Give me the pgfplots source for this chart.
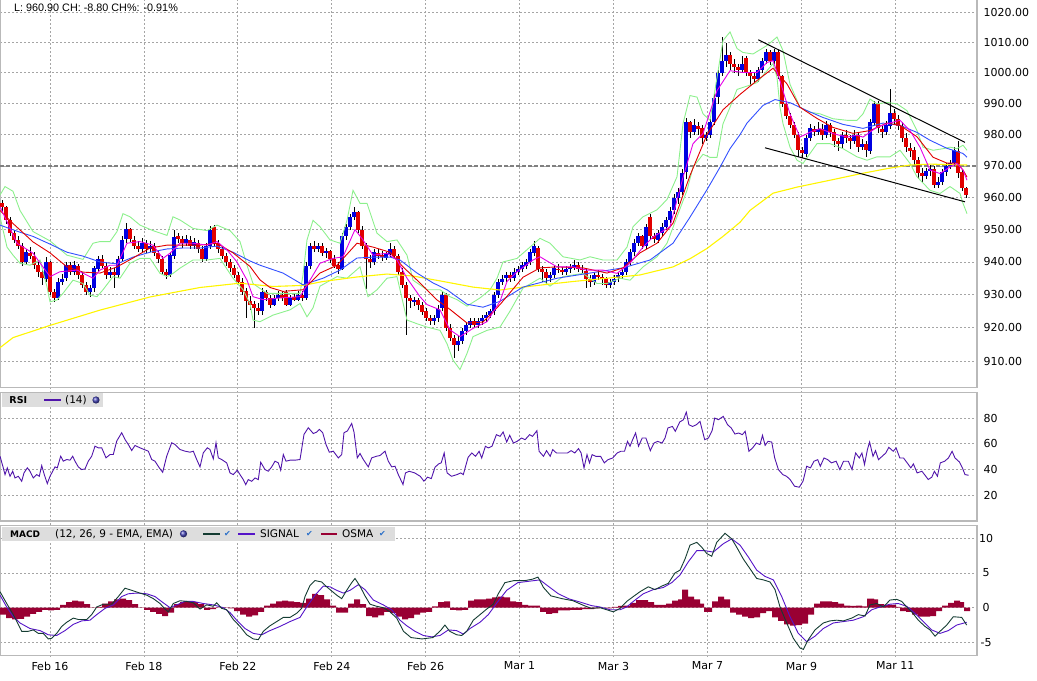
\documentclass[border=0pt]{standalone}
\usepackage{pgfplots}
\pgfplotsset{compat=1.18}
\usepackage{pgfplotstable}
\usepackage{fontspec}
\setmainfont{DejaVu Sans}
\newfontfamily\arialf{Liberation Sans}
\definecolor{candup}{RGB}{0,0,225}
\definecolor{canddn}{RGB}{225,0,0}
\definecolor{bbgreen}{RGB}{140,240,140}
\definecolor{emared}{RGB}{225,0,0}
\definecolor{emamag}{RGB}{230,0,230}
\definecolor{emablue}{RGB}{50,80,255}
\definecolor{emayel}{RGB}{255,245,0}
\definecolor{rsicol}{RGB}{80,20,170}
\definecolor{macdcol}{RGB}{20,60,50}
\definecolor{sigcol}{RGB}{85,20,200}
\definecolor{osmacol}{RGB}{153,0,51}
\definecolor{gridc}{RGB}{165,165,165}
\definecolor{framec}{RGB}{185,185,185}
\definecolor{legbg}{RGB}{221,221,221}
\definecolor{checkc}{RGB}{40,110,200}

\pgfplotstableread{
x o h l c
2 958.5 959.5 955.5 957
6 957 957.5 952 953
10 953 954 948 949
14 949 950 946 947
18 947 948 944 945
22 945 946 939 940
26 940 944 939 943
30 943 944.5 941 942
34 942 943 938 939
38 939 940 935.5 937
42 937 938 933 935
46 935 941.5 934 940
50 940 940.5 930 931
54 931 932 928 929
58 929 935 928.5 934
62 934 936.5 933 935
66 935 940 934 939
70 939 940 936 937
74 937 940.5 936 939
78 939 939.5 935 936
82 936 937 932 933
86 933 934 930 931
90 931 933 929.5 932
94 932 939 931 938
98 938 942 937 941
102 941 942 938 939
106 939 940 935 936
110 936 938.5 935 937
114 937 938 932 936
118 936 942 935 941
122 941 948 940 947
126 947 952 946 950
130 950 950.5 946 947
134 947 948 944 945
138 945 946.5 943 944
142 944 947.5 943 946
146 946 947 943 944
150 944 946.5 943 945
154 945 946 942 943
158 943 944 940 941
162 941 942 936.5 937
166 937 938 935 936
170 936 943 935.5 942
174 942 950 941 948
178 948 949 946 947
182 947 948 944.5 946
186 946 948.5 945 947
190 947 948 944 945
194 945 947.5 944 946
198 946 947 943 944
202 944 945 940 941
206 941 946 940.5 945
210 945 951 944 950
214 951 951.5 945 946
218 946 947 943 944
222 944 945 941 942
226 942 943 939 940
230 940 941 937 938
234 938 939 935 936
238 936 937 933 934
242 934 935 930 931
246 931 932 923 928
250 928 929.5 925.5 927
254 927 928 920 926
258 926 927.5 924 925
262 925 932 924 931
266 931 931.5 928 929
270 929 930 926 927
274 927 930 926.5 929
278 929 931 928 930
282 930 931 928 929
286 931 931.5 926.5 927
290 927 930 926.5 929
294 929.5 930.5 928 928.5
298 928.5 931 928 930
302 930 931 928 929
306 929 940 928.5 939
310 939 946 938 945
314 945 946.5 943 944
318 944 946 943 945
322 945 946 942 943
326 943 944.5 941.5 943.5
330 943.5 944 940 941
334 941 942 938 939
338 939 940 936.5 938
342 938 949 937.5 948
346 948 952 947 951
350 951 955 950 954
354 954 957 953 955.5
358 955.5 956 949 950
362 950 951 944 945
366 945 946 932 941
370 941 942 938 940
374 940 944 939 943
378 943 944 941 942
382 942 943.5 940.5 941.5
386 941.5 943 940.5 942.5
390 942.5 946 941.5 944
394 944 945 941 942
398 942 942.5 936 937
402 937 938 932 933
406 933 934 918 929
410 929 930 926 928
414 928 929.5 926.5 928.5
418 928.5 929 925.5 927
422 927 928 924 925
426 925 926 922 923
430 923 924 921 922
434 922 924 921 923
438 923 927 922 926
442 926 931 925 930
446 930 930.5 919 920
450 920 921 916 917
454 917 918 911 915
458 915 917.5 913 916
462 916 920 915 919
466 919 922 918 921
470 921 923 920 922
474 922 923 920 921
478 921 923 920 922
482 922 924 921 923
486 923 925 922 924
490 924 926 923 925
494 925 931 924 930
498 930 935 929 934
502 934 936 933 935
506 935 937 934 936
510 936 937 934 935
514 935 938 934 937
518 937 939 936 938
522 938 940 937 939
526 939 941 938 940
530 940 944 939 943
534 943 946.5 942 945
538 944.5 945 937 938
542 938 939 934 937
546 937 938 933 935
550 935 937 934 936
554 936 939 935 938
558 938 939.5 936.5 937.5
562 937.5 938.5 936 937
566 937 939 936 938
570 938 939.5 936.5 938.5
574 938.5 940.5 937.5 939
578 939 940 937 938
582 938 939 936.5 937.5
586 937.5 938 932 935
590 935 936 932.5 934
594 934 937 933 936
598 936 937.5 934.5 935.5
602 935.5 936.5 933 935
606 935 935.5 932 933
610 933 935 932 934
614 934 936 933 935
618 935 937 934 936
622 936 938 935 937
626 937 941 936 940
630 940 944 939 943
634 943 947 942 946
638 946 949 945 948
642 948 948.5 944 945
646 945 952 944 951
650 954 955 947 948
654 948 949 946 947
658 947 950 946 949
662 949 952 948 951
666 951 954 950 953
670 953 957 952 956
674 956 961 955 960
678 960 963 958 962
682 962 969 961 968
686 968 985.5 966 984
690 984 984.5 979 981
694 981 985 980 983
698 983 984 980 982
702 982 983 977 979
706 979 981 978 980
710 980 985 979 984
714 984 993 983 992
718 992 1001 990 1000
722 1000 1012 999 1004
726 1004 1010 1002 1006
730 1006 1007 1001 1003
734 1003 1004.5 1000 1002
738 1002 1003 999 1001
742 1001 1005.5 1000 1003
746 1005 1005.5 999 1000
750 1000 1001 996 999
754 999 1000 996.5 998
758 998 1002 997 1001
762 1001 1005 1000 1004
766 1004 1008 1003 1007
770 1007 1007.5 1002.5 1004
774 1004 1008 1003 1007
778 1007 1007.5 998 999
782 999 999.5 989 990
786 990 991 985 986
790 986 987 982 983
794 983 984 979 980
798 980 981 973 975
802 975 976 972.5 974
806 974 980 973 979
810 979 983.5 978 982
814 982 983 979.5 981
818 981 984 980 982
822 982 983.5 978.5 980
826 980 984.5 979 983
830 983 984 979.5 981
834 981 982 976 978
838 978 979 975 977
842 977 981 976 980
846 980 981.5 977.5 979
850 979 980 975.5 978
854 978 981.5 977 980
858 980 981 974.5 976
862 976 978.5 975 977
866 977 978 973 975
870 975 985 974 984
874 984 991 983 990
878 990 991 980.5 982
882 982 983 979 981
886 981 984.5 980 983
890 983 995 982 987
894 987 988.5 983.5 985
898 985 986.5 981.5 983
902 983 984 977.5 979
906 979 980.5 974.5 976
910 976 977.5 973 975
914 975 976 970.5 972
918 972 973 966 968
922 968 969.5 965 967
926 967 969.5 966 968.5
930 968.5 970.5 967 969
934 969 970 963 964
938 964 966.5 963 965
942 965 969 964 968
946 968 971 967 970
950 970 972 969 971
954 971 976 970 975
958 975 978 966.5 968
962 968 969 962 963
966 963 963.5 960 961
}\tabCandles

\pgfplotstableread{
x p
0 960.8
5 963.5
13 962
20 956
33 949.4
50 946.5
67 942.1
83 940.8
93 945.8
100 946.3
110 946.3
117 949.4
123 955
130 954
140 951.4
153 949.7
167 948.2
173 954
180 953
193 950.4
207 949.7
217 951.4
230 949.7
240 946.3
247 939
253 933.4
267 930.4
287 930.4
300 930.4
303 936
307 946.8
313 952.9
320 950.9
330 946.8
340 945.8
347 952.9
353 962.3
360 958.2
367 958.2
377 948.9
387 946.3
397 946.8
407 942.1
413 934.4
427 931.5
440 931.5
450 929.4
457 928.5
467 926.5
480 929
490 931.5
497 935
503 940
517 941.1
530 944.6
540 947.3
550 945.8
563 941.6
580 940.6
590 941.6
603 940.6
617 940.6
627 944.6
633 950.9
643 954
657 956.2
667 959.4
677 966.6
683 983.5
690 992.6
697 992.1
703 986.7
710 984.6
717 998.5
723 1010.6
730 1013.5
737 1008
743 1006.7
753 1006.2
767 1009
777 1011.8
783 1007.3
790 996.3
800 988.8
810 987.2
820 986.7
833 985.1
847 984.6
857 984.6
863 986.7
870 991.5
877 989.9
887 990.4
897 989.9
907 987.7
917 981.3
923 976
933 975
943 975.5
950 976
957 975.5
963 976.6
967 975
}\tabBBup

\pgfplotstableread{
x p
0 954
7 944.6
13 942.1
20 939.6
30 939
40 940.6
47 932.4
50 927.8
57 928.4
63 930.4
73 934.4
83 933.4
90 929.9
97 929.4
103 931.5
113 935.5
120 935
130 939.6
140 941.1
150 941.1
160 936.5
167 935.5
173 936.5
180 938.1
193 940.6
207 940.6
220 941.1
233 935
243 931.5
250 927.3
253 922.3
260 921.8
273 923.8
290 925.4
300 927.3
307 923.3
313 926
320 932.6
337 935.5
347 935
360 938.5
368 929.4
377 931.5
387 935
397 935.5
400 931.5
407 922.3
417 921.2
427 920.2
440 919.2
447 915.2
453 910.3
460 907.5
467 912.3
473 917.3
487 919.2
500 920.2
510 925
523 932
540 935
550 932.6
563 935.5
583 936.5
597 933.4
607 933.4
620 935
630 934.4
643 938.5
657 941.6
667 945.8
677 954
687 962.3
693 969.6
703 973.7
710 972.7
717 972.7
723 983.5
730 988.8
737 994.6
747 995.7
757 996.8
767 1000.7
773 1003
777 998.5
780 988.8
783 983.5
790 976
797 971.8
803 970.8
810 974
817 977.1
830 977.1
843 975.5
857 972.9
867 971.8
877 972.9
890 972.9
900 975
910 970.8
917 966.6
930 962.3
940 961.3
950 963.5
960 961.3
963 958.2
967 955
}\tabBBlo

\pgfplotstableread{
x p
0 914
13 917
50 920.7
100 925.3
150 929.3
200 932.2
240 933.5
273 932.5
303 932.8
323 934
357 935.4
387 936.3
413 935.7
440 934.2
473 932.3
500 931.4
523 932.3
573 934
607 935
640 936
673 938.5
690 941
707 944.2
723 947.9
740 952.3
750 956
773 961.4
797 963.3
830 965.5
863 967.7
890 969.3
910 970.3
930 970.6
967 970.3
}\tabYel

\pgfplotstableread{
x p
0 951.4
20 949.2
33 947.9
50 945.5
67 943
83 941.8
100 940
117 939.4
133 941.5
150 943
167 944
183 944.3
200 944.3
217 944.9
233 943
250 940.3
260 939
283 936.6
303 933
323 935
340 937.5
357 941.2
373 941.5
390 941.5
400 940.6
417 936.6
433 933.6
447 931.5
467 927.1
483 926.2
500 928
523 932.3
557 935
590 936.6
623 938.2
650 940.6
673 945.8
690 953.9
707 962.5
720 969.6
730 975.5
740 980
747 983.7
763 989.4
775 991.3
790 990.3
807 987.7
823 985.5
843 983.3
863 982
883 983.7
900 983
917 980.7
930 978.2
947 975.6
963 974
967 972.8
}\tabBlue

\pgfplotstableread{
x p
0 956
13 951.9
33 946.2
50 942.8
67 938.5
83 936.9
100 936.6
117 938.5
133 941.2
150 944.3
167 945.2
183 945.2
200 945.2
217 945.8
233 942.8
250 938.6
260 934.5
270 932.2
283 931
303 931.5
320 936.6
337 939
357 945.8
373 944.6
390 943
403 938.5
420 933.6
437 928.4
450 925.5
467 921.4
483 921.7
500 927
507 929.5
523 935.3
540 938.2
557 938.5
583 938.2
607 936.6
623 938.2
640 942.8
657 945.8
673 952
690 967
707 980
723 988
740 993
757 997.5
773 1001.5
787 996.4
800 988.8
817 985.2
833 982.3
853 980.4
870 981.3
887 983.7
900 983
917 979.3
933 972.8
947 970.9
957 970.9
963 968.7
967 966.5
}\tabRedEma

\pgfplotstableread{
x p
0 957.2
17 945.8
33 942.7
50 935.5
60 937
77 937.5
93 935
100 937.5
110 939
117 939
127 945.8
140 946.3
153 945.2
163 941.1
170 942.7
180 945.8
193 945.8
207 945.2
217 946.3
227 943.7
237 940
247 934.4
253 929.4
263 928.5
280 929
300 929.4
310 934.4
320 939.6
333 941.1
343 941.6
355 950
363 946.8
373 942.1
387 942.7
397 940.6
407 935
420 929.4
427 927
440 925.4
450 919.3
460 917.3
473 919.8
487 921.8
500 928
507 934
517 937
533 940.6
540 941.6
557 938.5
573 938.5
587 937.5
603 937.5
617 936.5
630 939.6
643 944.6
653 947.7
670 950.9
683 966.4
693 977.1
703 980.4
717 994.2
730 1000.7
743 1000.1
757 1000.1
767 1003.4
773 1004
780 997.4
790 986.6
800 979.2
810 980.8
820 981.9
833 980.3
847 979.2
857 979.8
863 979.2
877 982.4
887 983.5
900 984.6
910 981.3
920 976
930 968.7
940 967.6
950 969.7
957 970.8
963 968.7
967 965.5
}\tabMagEma

\pgfplotstableread{
x v
0 50.4
3.3 41.3
5 36.1
7.3 41.3
10 34.8
12.7 38.7
15 33.5
18.3 34.8
21.7 30.9
24 37.4
27.3 41.3
30 38.7
33.3 33.5
36.7 36.1
39.3 34.8
41.7 43.1
44.3 36.1
47.3 29.1
50 34.8
52.7 38.7
55 42.1
57.3 41.3
60.7 50.4
63.3 46.5
66.7 47.8
70 47.3
72.7 50.4
75 46.5
78.3 42.1
81.7 40
85 40.5
88.3 46.5
91.7 50.4
95 58.2
98.3 56.9
101.7 56.9
106 49.1
110 51.7
113.3 51.7
116.7 62.1
121.7 68.6
125 63.4
128.3 59.5
131.7 54.8
135 58.7
140 56.9
144 55.6
148.3 54.3
151.7 47.8
155 46.5
159.3 41.3
162.7 37.9
166.7 50.4
171.7 60.8
175 59.5
180 55.6
185 54.3
190 53.5
193.3 54.3
196.7 47.8
200 42.1
203.3 53
207.3 56.9
210 55.6
213.3 48.3
216 60.8
218.3 49.1
221.7 47.8
226.7 45.2
230 37.4
233.3 36.1
237.3 39.5
240 36.1
243.3 32.2
245.7 28.3
248.3 32.2
251.7 30.9
255 33.5
258.3 32.2
260.7 45.7
265 40
268.3 38.7
271.7 42.1
275 46.5
278.3 45.2
280.7 39.5
283.3 51.7
286 46.5
290 47.3
295 47.3
300 47.8
304 67.3
308.3 72.5
313.3 68
316.7 69.1
319.3 71.2
322.7 68.6
326 59.5
329.3 53.5
333.3 54.3
338.3 49.1
341.7 51.7
344 68.6
347.3 69.9
351.7 75.8
354 69.1
357.3 49.1
360 52.5
363.3 47.8
368.3 42.1
371.7 49.1
376.7 50.4
380 50.9
385 54.3
388.3 46.5
391.7 42.1
395 42.6
398.3 36.1
403 28.4
405.5 37.4
409.2 38.7
414.7 37.4
420.2 34.8
423.9 31
427.6 34.1
431.3 33
435 41.8
438.6 44.4
441.2 45.2
444.2 52.9
447.1 37.4
451.5 34.8
457 36.1
460.7 37.4
463.3 36.1
468.1 49.5
471.8 52.9
475.5 50.3
479.1 54.2
481.7 49
485.4 58.1
488.3 56.8
492 58.1
496.4 67.1
500.1 65.8
503.1 69.2
506.7 61.4
509.7 66.6
513.4 60.6
517 61.9
521.5 64.5
525.1 63.2
529.6 67.1
532.5 65.8
536.9 70.2
539.1 54.2
543.5 50.3
546.5 54.7
550.2 50.3
552.7 55.5
556.4 52.9
561.9 52.9
567.5 52.9
571.1 54.7
574.8 52.9
578.5 56.3
581.1 52.9
584 41.3
587 51.6
589.5 45.2
592.1 51.6
595.8 50.3
600.6 50.3
604.3 45.2
608 47.7
612.7 49
617.2 52.9
620.8 54.2
624.5 54.2
627.5 61.9
630 58.1
632.6 63.2
635.6 68.4
638.5 58.1
642.2 64.5
645.9 64.5
650.3 54.7
654 60.6
657.6 61.9
662.1 60.6
665 64.5
667.9 72.3
672.4 73.5
675.3 69.7
679.7 76.9
683.4 78.7
686.3 84.6
688.9 74.8
692.6 73.5
696.3 74.8
700 77.4
704.7 63.2
708.4 64.5
712.1 70.2
714.7 80
718.4 78.7
723.2 81.3
727.6 74.8
731.2 72.3
734.9 67.6
738.6 68.4
742.3 67.1
745.2 69.7
748.9 54.2
752.6 56.8
756.3 60.6
760 59.4
762.5 66.6
765.1 58.8
768 61.9
771.7 61.4
774.7 49
778.4 40
782.8 36.1
786.5 34.8
790.1 32.3
794.5 27.1
799.3 26.3
803 31
806.7 42.6
810.4 41.3
814 46.5
817.7 47.7
820.3 42.6
824 49
827.7 47.7
831.4 45.2
836.1 46.5
839.8 40
843.5 46.5
848.3 46.5
852 40
855.6 52.9
859.3 49
861.9 52.9
864.5 43.9
867.4 55.5
869.6 61.4
873 50.3
875.5 54.7
878.5 47.7
882.1 50.3
885.8 52.9
888.8 57.3
893.2 54.2
896.1 56.8
899.8 49
903.5 49
907.2 45.2
910.8 41.3
913.4 44.4
917.1 37.4
921.9 38.7
924.5 36.1
928.2 32.3
931.8 34.1
934.4 38.7
937.4 34.8
940.3 45.2
944.7 46.5
948.4 49
952.1 54.2
955 49
959.4 45.9
962.4 41.3
965 36.1
968.6 35.6
}\tabRsi

\pgfplotstableread{
x v
0 2.3
6.7 0.6
13.3 -1.0
21.7 -3.4
28.3 -3.4
33.3 -3.2
38.3 -3.7
43.3 -3.7
48.3 -4.5
51.7 -4.4
56.7 -3.7
61.7 -2.7
66.7 -2.1
73.3 -1.5
78.3 -1.7
86.7 -1.7
91.7 -1.0
96.7 0.1
103.3 0.5
111.7 0.5
118.3 1.6
125 2.8
131.7 2.5
140 2.1
146.7 1.8
153.3 1.3
160 0.6
165 -0.2
168.3 -0.6
173.3 0.6
180 1.0
186.7 0.9
193.3 0.7
200 -0.2
206.7 0.4
213.3 0.2
216.7 0.7
221.7 -0.1
226.7 -0.3
233.3 -1.7
240 -2.7
246.7 -3.9
253.3 -4.5
258.3 -4.6
263.3 -3.4
270 -2.6
276.7 -2.0
283.3 -1.4
290 -1.4
296.7 -0.8
301.7 -0.1
305 1.6
310 3.2
315 3.9
321.7 3.7
326.7 3.0
331.7 2.4
336.7 1.8
341.7 1.3
346.7 2.5
351.7 3.6
355 4.2
360 3.1
365 1.7
370 0.5
376.7 0.2
383.3 0.0
390 -0.6
396.7 -1.5
403.5 -3.4
411 -4.3
422 -4.5
433 -4.3
440.5 -3.3
444.9 -2.5
449.7 -3.4
456.7 -3.9
461.7 -4.0
466.7 -3.4
473.3 -1.8
480 -1.0
486.7 -0.2
493.3 0.5
498.3 2.0
504.9 3.6
514.1 3.9
525.1 3.9
532.5 4.1
538 4.4
543.5 2.9
550.9 1.7
561.9 1.3
573 1.0
584 0.3
591.4 -0.1
600 0.0
606.7 -0.3
613.3 -0.6
620 -0.1
626.7 0.9
633.3 1.6
640 2.3
648.3 3.0
655 2.6
661.7 3.1
668.3 3.5
675 5.0
680 5.4
685 7.0
690 9.0
696.7 9.4
701.7 8.7
706.7 7.8
711.7 7.4
716.7 9.4
725 10.7
731.7 9.9
736.7 8.7
743.3 7.0
750 5.6
756.7 4.2
763.3 4.0
770 3.7
775 2.6
780 0.1
786.7 -2.2
793.3 -4.4
800 -5.8
803.3 -6.0
808.3 -4.6
815 -3.2
823.3 -2.2
830 -1.9
836.7 -1.8
843.3 -1.9
851.7 -1.5
858.3 -1.0
865 -1.2
870 0.4
876.7 0.6
883.3 0.1
890 1.1
896.7 1.2
901.7 0.9
906.7 0.1
911.7 -0.6
918.3 -1.8
925 -2.7
930 -3.2
935 -4.1
940 -3.4
946.7 -2.5
953.3 -1.3
961.7 -1.4
966.7 -2.5
}\tabMacd

\pgfplotstableread{
x v
0 1.8
6.7 0.1
13.3 -1.3
20 -2.2
30 -3.0
40 -3.3
48.3 -3.9
56.7 -4.0
65 -3.3
73.3 -2.4
81.7 -1.9
90 -1.8
96.7 -1.0
105 -0.1
113.3 0.4
121.7 1.6
128.3 2.0
136.7 2.1
146.7 2.0
155 1.6
163.3 0.7
170 0.0
176.7 0.4
185 0.9
193.3 0.9
203.3 0.6
213.3 0.4
223.3 0.0
230 -0.7
236.7 -1.8
245 -3.0
253.3 -3.7
261.7 -3.9
270 -3.3
280 -2.7
290 -2.0
300 -1.4
306.7 0.1
315 1.8
323.3 3.1
330 3.0
336.7 2.5
343.3 2.1
350 2.5
358.3 3.3
365 2.6
373.3 1.1
383.3 0.4
391.7 -0.3
400 -1.8
406.7 -2.6
415 -3.4
423.3 -4.0
431.7 -4.2
440 -4.0
448.3 -3.2
456.7 -3.3
463.3 -3.8
470 -3.0
480 -2.1
488.3 -1.0
497.5 0.8
506.7 2.5
517.8 3.6
528.8 3.8
539.9 4.0
547.2 3.2
558.3 2.0
569.3 1.25
580.3 0.8
591.4 0.3
600 0.1
610 -0.3
620 -0.3
626.7 0.1
633.3 0.9
643.3 2.0
653.3 2.6
663.3 2.9
671.7 3.6
680 4.7
688.3 6.6
696.7 8.2
705 8.2
713.3 8.0
723.3 9.2
731.7 9.9
740 9.0
748.3 7.3
756.7 5.4
765 4.5
773.3 4.0
781.7 1.6
790 -1.3
798.3 -3.7
806.7 -4.9
815 -4.1
823.3 -3.0
833.3 -2.2
843.3 -2.0
853.3 -1.8
863.3 -1.3
871.7 -0.3
880 0.1
890 0.5
898.3 0.6
906.7 0.2
915 -0.8
923.3 -2.0
931.7 -3.2
940 -3.7
948.3 -3.3
956.7 -2.5
966.7 -2.1
}\tabSignal

\pgfplotstableread{
x v
0 -1.0
6 -1.5
12 -1.7
18 -1.6
24 -1.3
30 -0.9
36 -0.6
42 -0.3
48 -0.4
54 -0.3
60 0.4
66 0.8
72 1.0
78 0.9
84 0.5
90 0.05
96 0.1
102 0.6
108 0.9
114 1.2
120 1.3
126 1.1
132 0.5
138 0.05
144 -0.3
150 -0.6
156 -0.9
162 -1.2
168 -0.7
174 0.5
180 0.8
186 0.9
192 0.8
198 0.5
204 -0.3
210 -0.2
216 0.05
222 0.05
228 -0.1
234 -0.5
240 -1.0
246 -1.3
252 -1.1
258 -0.6
264 0.3
270 0.6
276 0.9
282 1.0
288 0.9
294 0.8
300 0.7
306 1.3
312 2.0
318 1.8
324 1.2
330 0.3
336 -0.7
342 -0.7
348 0.6
354 1.2
360 0.5
366 -1.2
372 -1.4
378 -1.1
384 -0.6
390 -0.8
396 -1.3
402 -1.7
408 -1.5
414 -1.0
420 -0.7
426 -0.6
432 0.2
438 0.8
444 0.9
450 -0.3
456 -0.4
462 -0.3
468 1.0
474 1.2
480 1.2
486 1.3
492 1.5
498 1.6
504 1.5
510 0.9
516 0.8
522 0.4
528 0.3
534 0.3
540 -0.6
546 -0.9
552 -0.8
558 -0.4
564 -0.4
570 -0.3
576 -0.3
582 -0.2
588 -0.2
594 -0.1
600 0.0
606 -0.1
612 0.1
618 0.25
624 0.3
630 0.7
636 1.1
642 1.1
648 0.8
654 0.4
660 0.4
666 0.6
672 1.0
678 1.2
682 2.6
688 1.6
694 1.2
700 0.6
704 -0.6
712 0.9
718 1.6
724 1.2
730 -0.7
736 -1.0
742 -1.3
748 -1.5
754 -1.4
760 -0.8
766 -0.5
772 -1.4
778 -1.9
784 -2.4
790 -2.6
796 -2.5
802 -2.3
808 -1.0
814 0.6
820 0.9
826 0.9
832 0.8
838 0.6
844 0.3
850 0.25
856 0.3
862 0.2
867 1.3
874 1.2
878 0.5
884 0.4
890 0.4
896 0.1
900 -0.5
906 -0.6
912 -1.0
918 -1.3
924 -1.3
930 -1.2
936 -0.5
942 0.3
948 0.7
954 1.0
960 0.8
964 -0.5
970 -0.5
}\tabOsma

\pgfplotsset{
  panel/.style={
    scale only axis, width=977bp, xmin=0, xmax=977,
    anchor=south west,
    axis line style={draw=framec, line width=1.5bp},
    major tick length=0pt,
    tick style={draw=none},
    xtick={50,143.92,237.84,331.77,425.69,519.61,613.53,707.46,801.38,895.3},
    xticklabels={},
    ymajorgrids,
    major grid style={draw=gridc, line width=0.7bp, dash pattern=on 2bp off 2bp},
    yticklabel pos=right,
    tick label style={font=\fontsize{11bp}{13bp}\selectfont},
  },
  lnf/.style={y filter/.expression={ln(y)}},
  ind/.style={line width=0.9bp, mark=none, lnf},
}

\begin{document}
\begin{tikzpicture}
\path[use as bounding box] (0,0) rectangle (1037bp,681bp);
\foreach \xx in {50,143.92,237.84,331.77,425.69,519.61,613.53,707.46,801.38,895.3}
  \draw[gridc, line width=0.7bp, dash pattern=on 2bp off 2bp] (\xx bp,24bp) -- (\xx bp,681bp);

% ---------------- main price panel ----------------
\begin{axis}[panel, at={(0bp,293.5bp)}, height=388bp,
  ymin=6.804774, ymax=6.931746,
  ytick={6.813445,6.824374,6.835185,6.845880,6.856462,6.866933,6.877296,6.887553,6.897705,6.907755,6.917706,6.927558},
  yticklabels={910.00,920.00,930.00,940.00,950.00,960.00,970.00,980.00,990.00,1000.00,1010.00,1020.00},
  yticklabel style={anchor=west, inner sep=0pt, xshift=6.5bp},
  xtick=\empty]
\addplot[draw=black!50, line width=1.2bp, dash pattern=on 4bp off 2bp, lnf] coordinates {(0,970) (977,970)};
% wicks
\addplot[draw=none, mark=none, forget plot,
  error bars/.cd, y dir=both, y explicit, error mark=none,
  error bar style={draw=black, line width=0.9bp, line cap=butt, solid}]
  table[x=x, y expr={(ln(\thisrow{h})+ln(\thisrow{l}))/2},
        y error expr={(ln(\thisrow{h})-ln(\thisrow{l}))/2}] \tabCandles;
% up bodies
\addplot[draw=none, mark=none, forget plot,
  restrict expr to domain={\thisrow{c}-\thisrow{o}}{0:1000},
  error bars/.cd, y dir=both, y explicit, error mark=none,
  error bar style={draw=candup, line width=3.1bp, line cap=butt, solid}]
  table[x=x, y expr={(ln(\thisrow{o})+ln(\thisrow{c}))/2},
        y error expr={max(abs(ln(\thisrow{c})-ln(\thisrow{o}))/2,0.00025)}] \tabCandles;
% down bodies
\addplot[draw=none, mark=none, forget plot,
  restrict expr to domain={\thisrow{o}-\thisrow{c}}{0.0001:1000},
  error bars/.cd, y dir=both, y explicit, error mark=none,
  error bar style={draw=canddn, line width=3.1bp, line cap=butt, solid}]
  table[x=x, y expr={(ln(\thisrow{o})+ln(\thisrow{c}))/2},
        y error expr={max(abs(ln(\thisrow{c})-ln(\thisrow{o}))/2,0.00025)}] \tabCandles;
% indicators
\addplot[ind, bbgreen] table[x=x,y=p] \tabBBup;
\addplot[ind, bbgreen] table[x=x,y=p] \tabBBlo;
\addplot[ind, emayel, line width=1.1bp] table[x=x,y=p] \tabYel;
\addplot[ind, emablue] table[x=x,y=p] \tabBlue;
\addplot[ind, emared] table[x=x,y=p] \tabRedEma;
\addplot[ind, emamag] table[x=x,y=p] \tabMagEma;
% trend lines
\addplot[black, line width=1bp, lnf] coordinates {(758.3,1010.9) (965,977.5)};
\addplot[black, line width=1bp, lnf] coordinates {(765,975.8) (965,958.7)};
\end{axis}

% ---------------- RSI panel ----------------
\begin{axis}[panel, at={(0bp,159.9bp)}, height=128.8bp,
  ymin=0, ymax=100, ytick={20,40,60,80}, yticklabels={20,40,60,80},
  yticklabel style={anchor=west, inner sep=0pt, xshift=6.5bp},
  xtick=\empty]
\addplot[rsicol, line width=0.9bp, mark=none] table[x=x,y=v] \tabRsi;
\end{axis}

% ---------------- MACD panel ----------------
\begin{axis}[panel, at={(0bp,25.3bp)}, height=130.1bp,
  ymin=-6.91, ymax=11.81, ytick={-5,0,5,10}, yticklabels={-5,0,5,10},
  yticklabel style={anchor=center, xshift=9bp},
  xticklabels={Feb 16,Feb 18,Feb 22,Feb 24,Feb 26,Mar 1,Mar 3,Mar 7,Mar 9,Mar 11},
  xticklabel style={anchor=north, inner sep=0pt, yshift=-6bp}]
\addplot[fill=osmacol, draw=none, const plot mark left, mark=none] table[x=x,y=v] \tabOsma \closedcycle;
\addplot[sigcol, line width=0.9bp, mark=none] table[x=x,y=v] \tabSignal;
\addplot[macdcol, line width=0.9bp, mark=none] table[x=x,y=v] \tabMacd;
\end{axis}

% ---------------- headers / legends ----------------
\node[anchor=base west, inner sep=0pt] at (14bp,669.7bp)
  {\arialf\fontsize{10.8bp}{12bp}\selectfont L: 960.90 CH: -8.80 CH\%: -0.91\%};

\fill[legbg] (1.7bp,287.7bp) rectangle (102.7bp,274.3bp);
\node[anchor=west, inner sep=0pt] at (9.3bp,281bp) {\fontsize{9.5bp}{11bp}\selectfont\bfseries RSI};
\draw[rsicol, line width=1.8bp] (44bp,281bp) -- (61bp,281bp);
\node[anchor=west, inner sep=0pt] at (65bp,281bp) {\fontsize{10.5bp}{12bp}\selectfont (14)};
\shade[ball color=blue!45!gray] (96bp,281bp) circle (3.6bp);

\fill[legbg] (1.7bp,154.3bp) rectangle (395bp,140bp);
\node[anchor=west, inner sep=0pt] at (10bp,147.2bp) {\fontsize{9bp}{11bp}\selectfont\bfseries MACD};
\node[anchor=west, inner sep=0pt] at (55bp,147.2bp) {\fontsize{10.5bp}{12bp}\selectfont (12, 26, 9 - EMA, EMA)};
\shade[ball color=blue!45!gray] (183.5bp,147.2bp) circle (3.6bp);
\draw[macdcol, line width=1.8bp] (203bp,147.2bp) -- (220bp,147.2bp);
\node[inner sep=0pt, text=checkc] at (227.5bp,147.2bp) {\fontsize{8bp}{9bp}\selectfont ✔};
\draw[sigcol, line width=1.8bp] (238bp,147.2bp) -- (255bp,147.2bp);
\node[anchor=west, inner sep=0pt] at (260bp,147.2bp) {\fontsize{10.5bp}{12bp}\selectfont SIGNAL};
\node[inner sep=0pt, text=checkc] at (309.5bp,147.2bp) {\fontsize{8bp}{9bp}\selectfont ✔};
\draw[osmacol, line width=1.8bp] (321bp,147.2bp) -- (337bp,147.2bp);
\node[anchor=west, inner sep=0pt] at (342bp,147.2bp) {\fontsize{10.5bp}{12bp}\selectfont OSMA};
\node[inner sep=0pt, text=checkc] at (382.5bp,147.2bp) {\fontsize{8bp}{9bp}\selectfont ✔};
\end{tikzpicture}
\end{document}
